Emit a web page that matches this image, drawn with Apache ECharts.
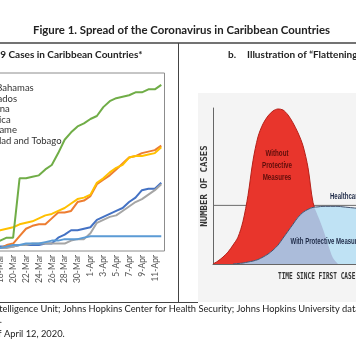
<!DOCTYPE html>
<html><head><meta charset="utf-8">
<script src="https://cdn.jsdelivr.net/npm/echarts@6/dist/echarts.min.js"></script>
<style>html,body{margin:0;padding:0;background:#fff;overflow:hidden;width:356px;height:364px;position:relative}
#c{position:absolute;left:-60px;top:0;width:416px;height:364px}</style>
</head><body><div id="c"></div><script>
// ---- Panel a: COVID-19 cases ----
const dates = ['10-Mar','11-Mar','12-Mar','13-Mar','14-Mar','15-Mar','16-Mar','17-Mar','18-Mar','19-Mar','20-Mar','21-Mar','22-Mar','23-Mar','24-Mar','25-Mar','26-Mar','27-Mar','28-Mar','29-Mar','30-Mar','31-Mar','1-Apr','2-Apr','3-Apr','4-Apr','5-Apr','6-Apr','7-Apr','8-Apr','9-Apr','10-Apr','11-Apr','12-Apr'];
const countryNames = ['The Bahamas','Barbados','Guyana','Jamaica','Suriname','Trinidad and Tobago'];
const bahamas  = [0,0,0,0,0,1,1,3, 3,3,3,4,4,4,4,5,5,9,11,14,14,15,16,21,23,25,27,29,33,36,41,42,42,46];
const barbados = [0,0,0,0,0,0,0,2, 2,4,5,10,15,17,18,18,22,26,26,27,33,34,37,45,48,51,55,59,63,64,66,67,68,71];
const guyana   = [0,1,1,1,1,1,1,2, 2,2,3,4,4,5,5,5,5,5,5,7,8,8,12,19,21,23,24,27,30,33,35,38,41,45];
const jamaica  = [1,2,8,8,10,10,12,13, 14,15,16,18,19,20,22,24,25,27,29,32,35,36,38,46,49,53,56,58,63,64,64,65,66,70];
const suriname = [0,0,0,1,1,1,1,1, 2,3,4,4,5,5,5,6,7,7,8,8,8,9,10,10,10,10,10,10,10,10,10,10,10,10];
const trinidad = [0,0,1,2,2,4,5,5, 7,9,9,49,49,50,51,55,58,66,75,80,84,86,89,91,97,101,103,104,105,107,107,109,109,112];
const countryColors = ['#4472C4','#ED7D31','#A5A5A5','#FFC000','#5B9BD5','#70AD47'];

// ---- Panel b: flattening the curve illustration ----
const curveX = [0,5,10,15,20,25,30,35,40,45,50,55,60,65,70,75,80,85,90,95,100,105,110,115,120,125,130,135,140,145];
const withoutMeasures = [0,3,7,12,19,27,43,69,104,128,141,149,154,156,155,150,142,132,119,97,62,48,35,20,6,0,null,null,null,null];
const withMeasures = [null,null,null,null,0,0.5,1,2,3,4.5,7,10,14,19,26,33,40,47,52,55,57,57.5,58,58,58,58,57.5,57,56.5,56];
const capacityLevel = [59,59];
const capacityX = [0,143];

const OFF = 60; // canvas is shifted left by this much (the reference is a crop)
const seriesData = [bahamas, barbados, guyana, jamaica, suriname, trinidad];
const pairs = (xs, ys) => xs.map((x,i) => [x, ys[i]]);
const overlap = curveX.map((x,i) => {
  const a = withoutMeasures[i], b = withMeasures[i];
  return (a == null || b == null) ? null : Math.min(a, b);
});

const chart = echarts.init(document.getElementById('c'), null, {renderer: 'canvas'});
const lato = 'Lato, sans-serif';
const series = countryNames.map((n, i) => ({
  name: n, type: 'line', xAxisIndex: 0, yAxisIndex: 0,
  data: seriesData[i], symbol: 'none', smooth: false,
  lineStyle: {width: 2, color: countryColors[i]}, itemStyle: {color: countryColors[i]}, z: 2 + i
}));
series.push(
  {type: 'line', xAxisIndex: 1, yAxisIndex: 1, data: pairs(capacityX, capacityLevel), symbol: 'none',
   lineStyle: {color: '#6b6b6b', width: 1}, z: 1, silent: true},
  {type: 'line', xAxisIndex: 1, yAxisIndex: 1, data: pairs(curveX, withoutMeasures), symbol: 'none', smooth: 0.3,
   lineStyle: {color: '#b52019', width: 1}, areaStyle: {color: '#e8352c', opacity: 1}, z: 2, silent: true},
  {type: 'line', xAxisIndex: 1, yAxisIndex: 1, data: pairs(curveX, withMeasures), symbol: 'none', smooth: 0.3,
   lineStyle: {width: 0}, areaStyle: {color: '#bfe2f4', opacity: 1}, z: 3, silent: true},
  {type: 'line', xAxisIndex: 1, yAxisIndex: 1, data: pairs(curveX, overlap), symbol: 'none', smooth: 0.3,
   lineStyle: {width: 0}, areaStyle: {color: '#abbcda', opacity: 1}, z: 4, silent: true},
  {type: 'line', xAxisIndex: 1, yAxisIndex: 1, data: pairs(curveX, withMeasures), symbol: 'none', smooth: 0.3,
   lineStyle: {color: '#44536f', width: 1}, z: 5, silent: true}
);

const cond = "bold 9px 'Liberation Sans', Arial, sans-serif";
const mono = "bold 9px 'DejaVu Sans Mono', monospace";
const T = (x, y, text, font, fill, align, extra) => Object.assign(
  {type: 'text', z: 100, x: x + OFF, y: y, silent: true,
   style: {text: text, font: font, fill: fill, textAlign: align, textVerticalAlign: 'middle'}}, extra || {});
chart.setOption({
  animation: false,
  backgroundColor: '#ffffff',
  legend: {
    data: countryNames, orient: 'vertical', left: -53 + OFF, top: 78,
    itemWidth: 20, itemHeight: 10, itemGap: 0.5, itemTextGap: 5,
    textStyle: {fontFamily: lato, fontSize: 9.5, color: '#333'}
  },
  grid: [
    {left: -54.5 + OFF, width: 219, top: 73, height: 178, show: true, borderColor: '#8c8c8c', borderWidth: 1, backgroundColor: 'transparent'},
    {left: 213 + OFF, top: 108, width: 143, height: 156}
  ],
  xAxis: [
    {type: 'category', gridIndex: 0, data: dates, boundaryGap: true,
     axisLine: {show: false}, axisTick: {show: false},
     axisLabel: {rotate: 90, interval: 1, fontFamily: lato, fontSize: 8.5, color: '#555', margin: 4}},
    {type: 'value', gridIndex: 1, min: 0, max: 143,
     axisLine: {show: true, lineStyle: {color: '#666', width: 1}}, axisTick: {show: false},
     axisLabel: {show: false}, splitLine: {show: false}}
  ],
  yAxis: [
    {type: 'value', gridIndex: 0, min: 0, max: 120, interval: 20,
     axisLine: {show: false}, axisTick: {show: false}, axisLabel: {show: false}, splitLine: {show: false}},
    {type: 'value', gridIndex: 1, min: 0, max: 157,
     axisLine: {show: true, lineStyle: {color: '#666', width: 1}}, axisTick: {show: false},
     axisLabel: {show: false}, splitLine: {show: false}}
  ],
  series: series,
  graphic: [
    {type: 'rect', z: 0, silent: true, shape: {x: 198 + OFF, y: 93, width: 160, height: 209}, style: {fill: '#f4f4f4'}},
    {type: 'line', z: 50, silent: true, shape: {x1: 0, y1: 43, x2: 356 + OFF, y2: 43}, style: {stroke: '#444', lineWidth: 1.5}},
    {type: 'line', z: 50, silent: true, shape: {x1: 178.5 + OFF, y1: 43, x2: 178.5 + OFF, y2: 302}, style: {stroke: '#444', lineWidth: 1}},
    {type: 'line', z: 50, silent: true, shape: {x1: 0, y1: 302.5, x2: 198 + OFF, y2: 302.5}, style: {stroke: '#444', lineWidth: 1}},
    T(181.5, 30, 'Figure 1. Spread of the Coronavirus in Caribbean Countries', "bold 11.4px Lato, sans-serif", '#222', 'center'),
    T(-51, 55, 'a. COVID-19 Cases in Caribbean Countries*', "bold 10px Lato, sans-serif", '#222', 'left'),
    T(228, 55, 'b.', "bold 10px Lato, sans-serif", '#222', 'left'),
    T(247, 55, 'Illustration of \u201CFlattening the Curve\u201D', "bold 10px Lato, sans-serif", '#222', 'left'),
    T(277, 166, 'Without\nProtective\nMeasures', cond, '#5e0e0b', 'center', {scaleX: 0.69, style: {text: 'Without\nProtective\nMeasures', font: cond, lineHeight: 12, fill: '#5e0e0b', textAlign: 'center', textVerticalAlign: 'middle'}}),
    T(290.5, 242, 'With Protective Measures', cond, '#1f2b48', 'left', {scaleX: 0.67}),
    T(330, 197, 'Healthcare System Capacity', cond, '#1f2b48', 'left', {scaleX: 0.67}),
    T(205, 186, 'NUMBER OF CASES', mono, '#333', 'center', {rotation: Math.PI / 2}),
    T(278, 277, 'TIME SINCE FIRST CASE', mono, '#333', 'left', {scaleX: 0.68}),
    T(-90, 309, 'Sources: Economist Intelligence Unit; Johns Hopkins Center for Health Security; Johns Hopkins University data', "9.3px Lato, sans-serif", '#222', 'left'),
    T(2, 320, 'analysis.', "9.3px Lato, sans-serif", '#222', 'right'),
    T(-46, 334, '* Data as of April 12, 2020.', "9.3px Lato, sans-serif", '#222', 'left')
  ]
});
</script></body></html>
